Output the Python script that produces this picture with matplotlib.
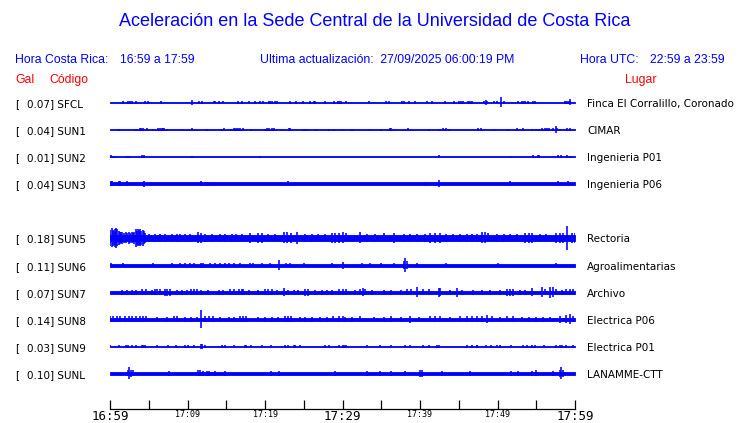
import numpy as np
import matplotlib
matplotlib.use("Agg")
import matplotlib.pyplot as plt

# station codes, peak values (Gal) and places
codes = ["SFCL", "SUN1", "SUN2", "SUN3", "SUN5", "SUN6", "SUN7", "SUN8", "SUN9", "SUNL"]
gal = [0.07, 0.04, 0.01, 0.04, 0.18, 0.11, 0.07, 0.14, 0.03, 0.10]
places = ["Finca El Corralillo, Coronado", "CIMAR", "Ingenieria P01", "Ingenieria P06",
          "Rectoria", "Agroalimentarias", "Archivo", "Electrica P06", "Electrica P01",
          "LANAMME-CTT"]
slots = [0, 1, 2, 3, 5, 6, 7, 8, 9, 10]

# background noise level of each trace (half width)
base = [0.5, 0.5, 0.5, 1.5, 2.7, 1.5, 1.7, 1.7, 0.6, 1.8]

# bursts: minutes after 16:59 and half amplitude
sfcl_t = [1.7, 2.3, 2.6, 2.8, 3.4, 4.5, 4.9, 6.6, 10.6, 11.5, 11.9, 13.4, 13.6, 14.1, 14.6,
          16.5, 17.0, 17.9, 18.7, 19.3, 19.7, 20.5, 20.7, 20.9, 21.3, 21.5, 23.2, 24.0, 24.9,
          25.8, 26.3, 26.5, 27.7, 28.9, 29.4, 29.6, 29.8, 30.4, 33.4, 35.6, 36.0, 37.7, 37.9,
          38.6, 39.4, 40.9, 41.5, 43.2, 44.4, 45.0, 45.3, 45.6, 46.2, 46.4, 46.7, 48.3, 48.5,
          48.7, 49.5, 49.9, 50.5, 50.9, 52.6, 53.2, 53.4, 53.5, 53.9, 54.6, 54.8, 58.7, 58.9,
          59.1, 59.3, 59.4]
sfcl_a = [1.5, 1.5, 1.6, 1.6, 1.3, 1.2, 1.2, 1.2, 2.2, 1.2, 1.3, 1.0, 1.0, 1.2, 1.0,
          1.3, 1.5, 1.0, 1.5, 1.3, 1.3, 1.6, 1.6, 1.6, 1.6, 1.6, 1.5, 1.5, 1.2,
          1.6, 1.6, 1.6, 1.5, 1.6, 1.6, 1.6, 1.5, 1.0, 1.0, 1.2, 1.2, 1.6, 1.6,
          1.6, 1.2, 1.0, 1.2, 1.5, 1.2, 1.6, 1.3, 1.2, 1.6, 1.6, 1.2, 1.8, 2.3,
          1.8, 1.0, 1.0, 5.0, 1.3, 1.0, 1.6, 1.6, 1.6, 1.2, 1.6, 1.6, 1.8, 1.8,
          1.8, 1.8, 3.0]

sun1_t = [1.2, 3.3, 3.9, 4.0, 4.2, 4.8, 5.5, 6.2, 6.4, 6.7, 6.85, 7.0, 7.4, 9.3, 10.6,
          12.5, 14.4, 14.7, 15.6, 16.0, 16.2, 16.5, 16.8, 17.1, 18.2, 20.0, 20.3, 20.5,
          20.9, 21.2, 22.2, 23.1, 23.2, 25.0, 25.4, 26.6, 28.2, 28.9, 29.9, 31.2, 33.5,
          35.0, 36.1, 36.3, 36.7, 38.4, 41.1, 42.6, 43.0, 43.4, 43.8, 47.5, 47.9, 49.6,
          51.3, 52.5, 53.3, 54.4, 55.0, 55.3, 55.8, 56.1, 56.4, 56.7, 57.1, 57.5, 57.7,
          58.0, 59.0, 59.4]
sun1_a = [1.0, 1.0, 1.7, 1.7, 1.7, 1.2, 1.0, 1.6, 1.6, 1.6, 1.6, 1.6, 1.0, 1.0, 1.6,
          1.0, 1.0, 1.2, 1.0, 1.7, 1.7, 1.7, 1.7, 1.7, 1.0, 1.0, 1.5, 1.5,
          1.7, 1.7, 1.0, 1.3, 1.3, 1.0, 1.0, 1.0, 1.0, 1.0, 1.0, 1.0, 1.0,
          1.0, 1.6, 1.6, 1.0, 1.3, 1.0, 1.0, 1.3, 1.3, 1.0, 1.3, 1.3, 1.0,
          1.0, 1.2, 1.2, 1.0, 1.0, 1.0, 1.7, 1.7, 1.7, 1.7, 1.7, 3.5, 1.7,
          1.0, 1.3, 1.3]

sun2_t = [0.1, 0.3, 0.6, 2.2, 2.5, 4.1, 4.4, 10.6, 19.3, 42.4, 51.7, 54.6, 55.2, 55.4,
          57.8, 58.2, 59.0, 59.3]
sun2_a = [1.2, 1.0, 1.0, 1.0, 0.9, 1.3, 1.3, 0.9, 0.9, 1.7, 0.8, 1.2, 1.4, 1.4,
          1.4, 1.4, 1.2, 1.0]

sun3_t = [0.1, 0.3, 1.1, 1.3, 2.2, 4.2, 4.4, 11.8, 12.7, 23.0, 40.6, 42.4, 51.6, 57.8,
          59.1]
sun3_a = [2.5, 2.3, 2.3, 2.3, 2.3, 2.2, 3.0, 2.5, 2.2, 2.5, 2.0, 3.5, 2.3, 2.5,
          2.5]

sun5_t = [0.05, 0.2, 0.35, 0.5, 0.65, 0.8, 0.95, 1.1, 1.25, 1.4, 1.6, 1.8, 2.0, 2.2, 2.4,
          2.6, 2.8, 3.0, 3.15, 3.3, 3.45, 3.6, 3.75, 3.9, 4.05, 4.2, 4.35, 4.5,
          5.0, 5.8, 6.5, 7.1, 8.0, 8.6, 9.0, 9.7, 10.3, 11.4, 11.8, 12.3, 13.1, 14.2, 14.8,
          15.7, 16.3, 17.0, 18.1, 19.1, 19.6, 20.4, 21.3, 22.4, 22.9, 23.4, 24.1, 25.2,
          26.0, 26.9, 27.7, 28.6, 29.0, 29.5, 30.1, 30.5, 32.3, 33.1, 34.2, 35.3, 36.6,
          37.9, 38.7, 39.6, 40.6, 41.3, 41.9, 42.6, 43.4, 44.3, 45.2, 46.0, 46.7, 47.3,
          48.0, 48.4, 48.8, 49.9, 50.8, 51.6, 52.5, 53.6, 54.0, 54.4, 55.5, 56.3, 57.6,
          58.1, 58.5, 59.0, 59.6, 60.0]
sun5_a = [8.0, 9.5, 8.0, 7.0, 9.0, 10.0, 8.5, 7.0, 6.0, 5.5, 6.0, 5.0, 5.5, 4.5, 6.0,
          5.0, 5.5, 4.5, 6.0, 9.0, 7.0, 8.5, 7.5, 8.5, 7.0, 8.0, 6.5, 5.0,
          4.0, 4.0, 3.8, 4.2, 3.8, 4.0, 4.2, 3.8, 4.0, 5.5, 5.0, 4.0, 4.0, 4.0, 4.0,
          3.8, 4.0, 4.0, 5.0, 5.0, 5.2, 4.0, 4.0, 5.5, 5.5, 5.0, 6.0, 4.0,
          4.0, 4.0, 4.0, 5.0, 5.0, 5.0, 5.5, 4.5, 5.5, 4.0, 4.0, 4.5, 5.0,
          4.0, 4.0, 4.0, 4.0, 5.0, 5.0, 5.0, 4.0, 4.0, 4.0, 4.0, 4.0, 4.0,
          5.5, 5.5, 4.5, 4.0, 4.0, 4.0, 4.0, 5.0, 5.0, 5.0, 4.0, 4.0, 5.0,
          5.0, 5.0, 12.0, 5.0, 5.0]

sun6_t = [0.1, 1.7, 5.6, 8.0, 9.0, 9.7, 10.3, 10.9, 11.7, 12.0, 12.9, 13.6, 14.2, 14.8,
          15.3, 16.0, 16.8, 18.1, 18.4, 19.6, 20.7, 21.8, 22.7, 23.2, 25.0, 28.6, 30.1,
          32.5, 33.5, 35.0, 36.6, 37.9, 38.1, 38.3, 39.6, 43.4, 50.1, 57.5]
sun6_a = [2.0, 2.3, 1.9, 2.3, 2.3, 2.0, 2.0, 2.0, 2.5, 2.5, 2.0, 2.0, 2.0, 2.0,
          2.0, 2.0, 2.3, 2.3, 2.3, 2.0, 2.3, 5.0, 2.0, 2.0, 1.9, 2.3, 3.5,
          2.5, 2.3, 1.9, 2.0, 4.0, 7.0, 4.0, 2.0, 1.9, 2.3, 1.9]

sun7_t = [1.5, 2.2, 2.8, 3.4, 4.1, 4.7, 5.4, 5.8, 6.1, 6.5, 7.1, 7.4, 7.7, 8.6, 9.3, 9.9,
          10.5, 10.9, 11.2, 11.8, 12.7, 14.0, 14.6, 15.5, 16.0, 16.6, 17.0, 17.2, 17.9,
          19.1, 20.0, 20.4, 20.9, 21.5, 22.4, 23.0, 23.7, 24.3, 25.2, 25.6, 26.5, 27.3,
          28.0, 28.6, 29.5, 30.1, 30.5, 31.6, 32.3, 32.7, 32.9, 33.8, 35.3, 36.3, 37.6,
          38.3, 38.9, 39.6, 40.4, 41.1, 42.4, 42.6, 43.9, 44.8, 45.4, 46.9, 48.0, 49.0,
          50.3, 51.2, 51.6, 52.0, 52.9, 53.6, 54.4, 55.7, 56.1, 56.8, 57.2, 57.6, 58.3,
          58.9, 59.4, 59.8]
sun7_a = [2.5, 2.5, 2.5, 2.5, 2.8, 3.0, 2.5, 3.0, 3.0, 3.0, 3.5, 3.5, 3.5, 2.5, 2.5, 2.5,
          3.0, 3.0, 3.0, 2.5, 2.5, 2.5, 2.5, 3.0, 3.0, 3.0, 3.0, 3.0, 2.5,
          2.5, 3.0, 3.0, 3.0, 2.5, 4.0, 2.5, 2.5, 2.5, 3.5, 3.5, 2.5, 2.5,
          2.5, 2.5, 3.0, 3.0, 3.0, 2.5, 3.0, 4.0, 3.0, 2.5, 2.5, 2.5, 2.5,
          3.0, 3.0, 5.0, 3.0, 3.0, 4.5, 4.0, 2.5, 4.5, 2.5, 2.5, 2.5, 2.5,
          2.5, 3.5, 3.5, 3.5, 2.5, 2.5, 4.0, 5.0, 3.0, 5.5, 5.0, 3.0, 2.5,
          3.0, 3.0, 3.0]

sun8_t = [0.0, 0.4, 0.9, 1.3, 1.9, 2.4, 2.8, 3.4, 3.9, 4.3, 4.7, 6.0, 7.3, 8.2, 8.6, 9.7,
          10.5, 11.2, 11.8, 12.3, 12.8, 13.3, 14.2, 15.3, 16.0, 16.8, 17.2, 17.6, 19.1,
          20.0, 20.9, 21.7, 22.6, 23.0, 23.4, 24.5, 25.2, 26.0, 27.1, 28.0, 28.8, 29.5,
          30.1, 30.3, 31.2, 32.3, 34.0, 35.3, 36.3, 37.6, 38.7, 39.9, 41.3, 41.9, 42.6,
          43.9, 45.2, 46.0, 46.7, 47.3, 48.0, 48.6, 49.3, 50.3, 51.2, 52.0, 53.1, 54.0,
          55.0, 55.9, 56.8, 58.1, 58.9, 59.4, 59.8]
sun8_a = [3.0, 3.0, 3.0, 3.0, 3.0, 3.0, 3.0, 3.0, 3.0, 3.0, 3.0, 2.5, 2.5, 2.8, 2.8, 2.5,
          2.5, 2.5, 9.0, 3.0, 3.0, 3.0, 2.5, 2.5, 2.5, 3.0, 3.0, 3.0, 2.5,
          2.5, 2.5, 2.5, 3.0, 3.0, 3.0, 2.5, 2.5, 2.5, 2.5, 2.5, 3.0, 3.0,
          3.0, 2.5, 2.5, 3.0, 2.5, 2.5, 3.0, 2.5, 3.5, 2.5, 3.0, 3.0, 3.0,
          2.5, 3.0, 3.0, 3.0, 3.0, 3.0, 4.0, 3.0, 2.5, 3.0, 3.0, 2.5, 2.5,
          2.5, 2.5, 2.5, 3.5, 4.0, 5.0, 3.0]

sun9_t = [0.0, 0.6, 1.2, 2.0, 2.3, 2.8, 3.4, 4.1, 4.3, 4.5, 6.0, 7.5, 8.5, 9.7, 10.1,
          10.9, 11.7, 11.9, 12.3, 14.4, 14.8, 16.0, 17.4, 17.6, 18.2, 19.6, 20.8, 22.6,
          23.0, 23.7, 23.9, 24.5, 27.7, 28.2, 29.5, 30.1, 30.2, 30.4, 33.2, 34.8, 36.3,
          38.1, 38.7, 40.4, 41.1, 42.2, 42.5, 46.0, 46.7, 47.3, 47.4, 48.5, 49.2, 49.9,
          50.3, 51.7, 53.3, 53.8, 54.5, 54.8, 56.0, 57.6, 58.0, 58.3, 58.9, 59.7]
sun9_a = [1.0, 0.8, 1.0, 1.5, 1.5, 1.0, 1.2, 1.5, 1.5, 1.5, 1.0, 1.0, 1.2, 1.2, 1.2,
          1.2, 2.5, 2.5, 1.2, 1.5, 1.5, 1.0, 1.2, 1.2, 1.0, 1.0, 1.0, 1.2,
          1.2, 1.5, 1.5, 1.0, 1.2, 1.2, 1.0, 1.2, 1.2, 1.2, 1.0, 1.0, 1.0,
          1.0, 1.0, 1.2, 1.2, 1.7, 1.7, 1.2, 1.2, 1.5, 1.5, 1.0, 1.2, 1.0,
          1.2, 1.0, 1.2, 1.2, 1.5, 1.5, 1.0, 1.5, 1.5, 1.5, 1.2, 1.2]

sunl_t = [2.3, 2.5, 2.7, 3.0, 7.6, 11.4, 11.6, 12.0, 12.5, 12.8, 13.6, 14.8, 20.8, 21.8,
          29.0, 33.2, 34.8, 36.2, 38.0, 40.0, 40.2, 42.9, 46.5, 51.7, 52.6, 54.5, 55.0,
          57.2, 58.1, 58.25, 58.4]
sunl_a = [3.0, 6.0, 3.5, 3.0, 2.3, 3.0, 3.0, 2.8, 2.8, 2.8, 2.8, 2.3, 2.7, 2.7,
          2.3, 2.3, 2.3, 2.3, 2.5, 3.5, 3.5, 2.5, 2.5, 2.5, 2.5, 2.7, 3.0,
          2.5, 3.5, 6.0, 3.5]

bursts_t = [sfcl_t, sun1_t, sun2_t, sun3_t, sun5_t, sun6_t, sun7_t, sun8_t, sun9_t, sunl_t]
bursts_a = [sfcl_a, sun1_a, sun2_a, sun3_a, sun5_a, sun6_a, sun7_a, sun8_a, sun9_a, sunl_a]

minutes = [0, 5, 10, 15, 20, 25, 30, 35, 40, 45, 50, 55, 60]
tick_text = ["16:59", "", "17:09", "", "17:19", "", "17:29", "", "17:39", "", "17:49", "", "17:59"]

W, H = 740, 423
blue = "#0000ff"
red = "#ff0000"

fig = plt.figure(figsize=(W / 100, H / 100), dpi=100)

# full-figure axes in pixel coordinates for the text
tx = fig.add_axes([0, 0, 1, 1])
tx.set_xlim(0, W)
tx.set_ylim(H, 0)
tx.axis("off")

hfont = "Liberation Sans"
tx.text(375, 22, "Aceleración en la Sede Central de la Universidad de Costa Rica",
        color=blue, fontsize=13, family=hfont, ha="center", va="center")
tx.text(15, 60, "Hora Costa Rica:", color=blue, fontsize=8.8, family=hfont, va="center")
tx.text(120, 60, "16:59 a 17:59", color=blue, fontsize=8.8, family=hfont, va="center")
tx.text(260, 60, "Ultima actualización:  27/09/2025 06:00:19 PM", color=blue,
        fontsize=8.8, family=hfont, va="center")
tx.text(580, 60, "Hora UTC:", color=blue, fontsize=8.8, family=hfont, va="center")
tx.text(725, 60, "22:59 a 23:59", color=blue, fontsize=8.8, family=hfont, va="center", ha="right")
tx.text(15, 80, "Gal", color=red, fontsize=8.8, family=hfont, va="center")
tx.text(49, 80, "Código", color=red, fontsize=8.8, family=hfont, va="center")
tx.text(656, 80, "Lugar", color=red, fontsize=8.8, family=hfont, va="center", ha="right")

# traces axes: x in minutes, y in pixel rows
ax = fig.add_axes([110 / W, 0, 465 / W, 1])
ax.set_xlim(0, 60)
ax.set_ylim(H, 0)
ax.axis("off")

for i, code in enumerate(codes):
    y = 102.5 + 27.1 * slots[i]
    ax.fill_between([0, 60], y - base[i], y + base[i], color=blue, lw=0.6)
    t = np.array(bursts_t[i])
    a = np.array(bursts_a[i])
    ax.vlines(t, y - a, y + a, color=blue, lw=1.15)
    tx.text(15, y + 4.5, "[", fontsize=7.5, va="baseline")
    tx.text(27, y + 4.5, f"{gal[i]:.2f}] {code}", fontsize=7.5, va="baseline")
    tx.text(587, y + 4.5, places[i], fontsize=7.5, va="baseline")

# time axis
ta = fig.add_axes([110 / W, (H - 409) / H, 465 / W, 0.01])
ta.set_xlim(0, 60)
for s in ["top", "left", "right"]:
    ta.spines[s].set_visible(False)
ta.spines["bottom"].set_linewidth(0.9)
ta.set_yticks([])
ta.set_xticks(minutes)
ta.set_xticklabels(tick_text, family="DejaVu Sans Mono")
ta.tick_params(axis="x", direction="in", length=6.5, width=0.9, pad=0.6)
for lbl in ta.get_xticklabels():
    lbl.set_fontsize(9 if lbl.get_text() in ("16:59", "17:29", "17:59") else 6)

fig.savefig("out.png", dpi=100)
